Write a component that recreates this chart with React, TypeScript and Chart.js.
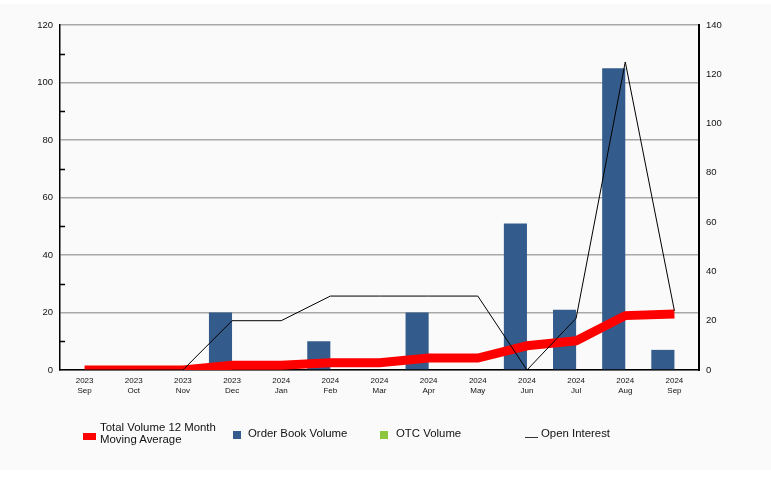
import React, { useEffect, useRef } from "react";
import { Chart, registerables } from "chart.js";

Chart.register(...registerables);

const years = ["2023", "2023", "2023", "2023", "2024", "2024", "2024", "2024", "2024", "2024", "2024", "2024", "2024"];
const months = ["Sep", "Oct", "Nov", "Dec", "Jan", "Feb", "Mar", "Apr", "May", "Jun", "Jul", "Aug", "Sep"];
const orderBookVolume = [0, 0, 0, 20, 0, 10, 0, 20, 0, 51, 21, 105, 7];
const otcVolume = [0, 0, 0, 0, 0, 0, 0, 0, 0, 0, 0, 0, 0];
const movingAverage = [0, 0, 0, 1.67, 1.67, 2.5, 2.5, 4.17, 4.17, 8.42, 10.17, 18.92, 19.5];
const openInterest = [0, 0, 0, 20, 20, 30, 30, 30, 30, 0, 21, 125, 24];

const FONT = "'Liberation Sans', Arial, sans-serif";
const RED = "#ff0000";
const BLUE = "#335c8c";
const GREEN = "#8cc63f";

const minorTicks = {
  id: "minorTicks",
  afterDraw(chart: any) {
    const s = chart.scales.y;
    const ctx = chart.ctx;
    ctx.save();
    ctx.strokeStyle = "#000";
    ctx.lineWidth = 1.5;
    for (let v = 10; v < 120; v += 20) {
      const py = Math.round(s.getPixelForValue(v)) + 0.5;
      ctx.beginPath();
      ctx.moveTo(s.right, py);
      ctx.lineTo(s.right + 5, py);
      ctx.stroke();
    }
    ctx.restore();
  },
};

export default function App() {
  const ref = useRef<HTMLCanvasElement>(null);
  useEffect(() => {
    const labels = years.map((y, i) => [y, months[i]]);
    const chart = new Chart(ref.current!, {
      type: "bar",
      data: {
        labels,
        datasets: [
          {
            type: "line",
            label: "Open Interest",
            data: openInterest,
            yAxisID: "y1",
            borderColor: "#000",
            borderWidth: 1,
            pointRadius: 0,
            tension: 0,
            order: 0,
          } as any,
          {
            type: "line",
            label: "Total Volume 12 Month Moving Average",
            data: movingAverage,
            yAxisID: "y",
            borderColor: RED,
            borderWidth: 9,
            borderCapStyle: "butt",
            borderJoinStyle: "miter",
            pointRadius: 0,
            tension: 0,
            order: 1,
          } as any,
          {
            label: "Order Book Volume",
            data: orderBookVolume,
            yAxisID: "y",
            backgroundColor: BLUE,
            categoryPercentage: 0.94,
            barPercentage: 1,
            order: 2,
          },
          {
            label: "OTC Volume",
            data: otcVolume,
            yAxisID: "y",
            backgroundColor: GREEN,
            categoryPercentage: 0.94,
            barPercentage: 1,
            order: 3,
          },
        ],
      },
      options: {
        animation: false,
        responsive: false,
        maintainAspectRatio: false,
        layout: { padding: { top: 25, left: 0, right: 0, bottom: 0 } },
        plugins: { legend: { display: false }, tooltip: { enabled: false } },
        scales: {
          x: {
            offset: true,
            grid: { display: false, drawTicks: false },
            border: { color: "#000", width: 1.5 },
            ticks: {
              font: { family: FONT, size: 8 },
              color: "#111",
              padding: 6,
              maxRotation: 0,
              autoSkip: false,
            },
            afterFit(scale: any) {
              scale.height = 477 - 370;
            },
          },
          y: {
            position: "left",
            min: 0,
            max: 120,
            ticks: { stepSize: 20, font: { family: FONT, size: 9.5 }, color: "#111", padding: 7 },
            grid: { color: "#a8a8a8", lineWidth: 1.5, drawTicks: false },
            border: { color: "#000", width: 1.5 },
            afterFit(scale: any) {
              scale.width = 60;
            },
          },
          y1: {
            position: "right",
            min: 0,
            max: 140,
            ticks: { stepSize: 20, font: { family: FONT, size: 9.5 }, color: "#111", padding: 7 },
            grid: { display: false, drawTicks: false },
            border: { color: "#000", width: 2 },
            afterFit(scale: any) {
              scale.width = 771 - 699;
            },
          },
        },
      },
      plugins: [minorTicks],
    });
    return () => chart.destroy();
  }, []);

  const txt: React.CSSProperties = {
    position: "absolute",
    fontFamily: FONT,
    fontSize: "11.4px",
    lineHeight: "12px",
    color: "#111",
    whiteSpace: "nowrap",
  };

  return (
    <div style={{ position: "relative", width: 771, height: 477, background: "#fff" }}>
      <style>{"body{margin:0}"}</style>
      <div style={{ position: "absolute", left: 0, top: 4, width: 771, height: 466, background: "#fafafa" }} />
      <canvas ref={ref} width={771} height={477} style={{ position: "absolute", left: 0, top: 0 }} />
      <div style={{ position: "absolute", left: 83, top: 433, width: 13, height: 7, background: RED }} />
      <div style={{ ...txt, left: 100, top: 421 }}>
        Total Volume 12 Month
        <br />
        Moving Average
      </div>
      <div style={{ position: "absolute", left: 233, top: 431, width: 8, height: 8, background: BLUE }} />
      <div style={{ ...txt, left: 248, top: 427 }}>Order Book Volume</div>
      <div style={{ position: "absolute", left: 380, top: 431, width: 8, height: 8, background: GREEN }} />
      <div style={{ ...txt, left: 396, top: 427 }}>OTC Volume</div>
      <div style={{ position: "absolute", left: 525, top: 437, width: 13, height: 1, background: "#333" }} />
      <div style={{ ...txt, left: 541, top: 427 }}>Open Interest</div>
    </div>
  );
}
